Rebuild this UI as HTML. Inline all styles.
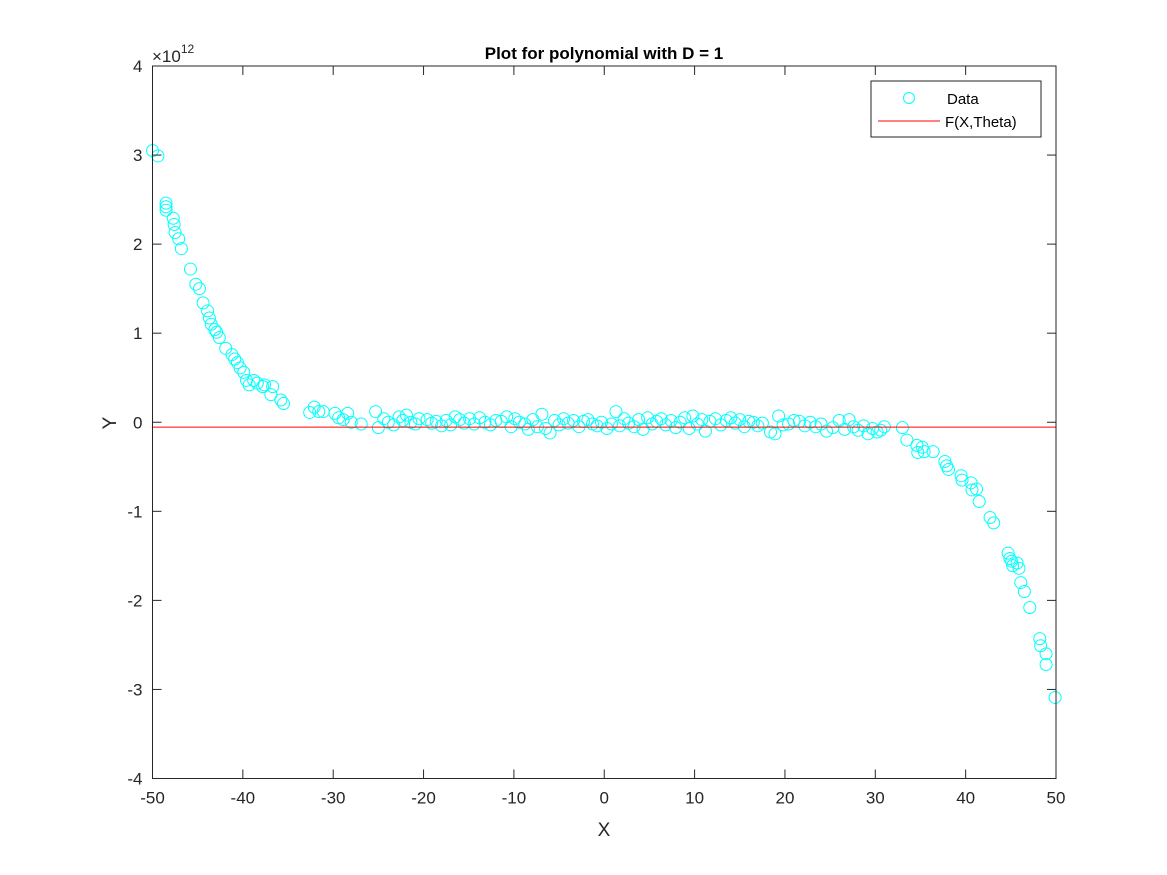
<!DOCTYPE html>
<html><head><meta charset="utf-8"><style>
html,body{margin:0;padding:0;background:#fff;}
svg{display:block;font-family:"Liberation Sans",Arial,sans-serif;}
</style></head><body>
<svg id="chart" width="1167" height="875" viewBox="0 0 1167 875" xmlns="http://www.w3.org/2000/svg">
<rect width="1167" height="875" fill="#fff"/>
<g id="marks"></g>
<g id="axes"></g>
<text x="604" y="59" text-anchor="middle" font-size="17" font-weight="bold" fill="#000">Plot for polynomial with D = 1</text>
<text x="604" y="836" text-anchor="middle" font-size="19" fill="#262626">X</text>
<text x="110" y="423" text-anchor="middle" font-size="19" fill="#262626" transform="rotate(-90 110 423)" dy="6">Y</text>
<text x="152" y="62" font-size="17" fill="#262626">×10<tspan font-size="12" dy="-9">12</tspan></text>
<g>
<rect x="871" y="81" width="170" height="56" fill="#fff" stroke="#262626" stroke-width="1"/>
<circle cx="909" cy="98" r="5.5" fill="none" stroke="#00ffff" stroke-width="1"/>
<text x="947" y="104" font-size="15" fill="#000">Data</text>
<line x1="878" y1="121" x2="940" y2="121" stroke="#ff0000" stroke-width="1"/>
<text x="945" y="127" font-size="15" fill="#000">F(X,Theta)</text>
</g>
</svg>
<script>
const xData = [-50,-49.4,-48.5,-48.5,-48.5,-47.7,-47.6,-47.5,-47.1,-46.8,-45.8,-45.2,-44.8,-44.4,-43.9,-43.7,-43.5,-43.1,-42.9,-42.6,-41.9,-41.2,-40.9,-40.6,-40.3,-39.9,-39.6,-39.3,-38.8,-38.4,-37.8,-37.6,-36.9,-36.7,-35.8,-35.5,
-32.6,-32.1,-31.6,-31.1,-29.8,-29.4,-28.9,-28.4,-28.0,-26.9,-25.3,-25.0,-24.4,-23.9,-23.3,-22.7,-22.3,-21.9,-21.4,-20.9,-20.5,-19.6,-19.1,-18.6,-18.0,-17.5,-17.0,-16.5,-16.0,-15.5,-14.9,-14.4,-13.8,-13.2,-12.6,-12.0,-11.4,-10.8,-10.3,-9.9,-9.4,-8.8,-8.4,-7.9,-7.4,-6.9,-6.5,-6.0,-5.5,-5.0,-4.5,-4.0,-3.4,-2.8,-2.3,-1.8,-1.3,-0.8,-0.3,0.3,0.8,1.3,1.7,2.2,2.7,3.3,3.8,4.3,4.8,5.3,5.8,6.3,6.8,7.4,7.9,8.4,8.9,9.4,9.8,10.3,10.8,11.2,11.7,12.3,12.9,13.5,14.0,14.5,15.0,15.5,16.0,16.5,17.0,17.5,18.4,18.9,19.3,19.8,20.4,21.0,21.6,22.2,22.8,23.4,24.0,24.6,25.3,26.0,26.6,27.1,27.6,28.1,28.7,29.2,29.7,30.2,30.6,31.0,33.0,
33.5,34.6,34.7,35.2,35.4,36.4,37.7,37.9,38.1,39.5,39.6,40.6,40.7,41.2,41.5,42.7,43.1,44.7,44.9,45.1,45.2,45.7,45.9,46.1,46.5,47.1,48.2,48.3,48.9,48.9,49.9];
const yData = [3.05,2.99,2.46,2.38,2.42,2.29,2.22,2.13,2.06,1.95,1.72,1.55,1.50,1.34,1.25,1.17,1.10,1.04,1.01,0.95,0.83,0.76,0.71,0.67,0.61,0.56,0.47,0.42,0.47,0.44,0.40,0.42,0.31,0.40,0.25,0.21,
0.11,0.17,0.12,0.12,0.10,0.05,0.03,0.10,0.00,-0.02,0.12,-0.06,0.04,0.00,-0.03,0.06,0.02,0.08,0.00,-0.02,0.04,0.03,-0.01,0.01,-0.04,0.02,-0.03,0.06,0.03,-0.01,0.04,-0.02,0.05,0.00,-0.03,0.02,0.01,0.06,-0.05,0.04,0.00,-0.02,-0.08,0.03,-0.05,0.09,-0.07,-0.12,0.02,-0.03,0.04,-0.01,0.02,-0.05,0.01,0.03,-0.02,-0.04,0.00,-0.07,-0.02,0.12,-0.04,0.04,-0.01,-0.05,0.03,-0.08,0.05,-0.02,0.01,0.04,-0.03,0.02,-0.06,0.00,0.05,-0.07,0.07,-0.02,0.03,-0.10,0.01,0.04,-0.03,0.02,0.05,-0.01,0.03,-0.05,0.01,0.00,-0.04,-0.01,-0.11,-0.13,0.07,-0.03,-0.02,0.02,0.01,-0.04,0.00,-0.05,-0.02,-0.10,-0.06,0.02,-0.08,0.03,-0.05,-0.09,-0.04,-0.13,-0.07,-0.11,-0.09,-0.05,-0.06,
-0.20,-0.26,-0.34,-0.28,-0.33,-0.33,-0.44,-0.49,-0.53,-0.60,-0.65,-0.68,-0.76,-0.75,-0.89,-1.07,-1.13,-1.47,-1.53,-1.56,-1.61,-1.58,-1.64,-1.80,-1.90,-2.08,-2.43,-2.51,-2.60,-2.72,-3.09];
const fitX = [-50, 50];
const fitY = [-0.055, -0.055];
const xTicks = [-50,-40,-30,-20,-10,0,10,20,30,40,50];
const yTicks = [-4,-3,-2,-1,0,1,2,3,4];

const L=152.5,R=1056,T=66,B=778.5;
const sx=v=>L+(v+50)/100*(R-L);
const sy=v=>B-(v+4)/8*(B-T);
const NS='http://www.w3.org/2000/svg';
const marks=document.getElementById('marks'), axes=document.getElementById('axes');
function mk(tag,attrs,parent){const e=document.createElementNS(NS,tag);for(const k in attrs)e.setAttribute(k,attrs[k]);parent.appendChild(e);return e;}

const n=Math.min(xData.length,yData.length);
for(let i=0;i<n;i++){
  const c=mk('circle',{cx:sx(xData[i]),cy:sy(yData[i]),r:6,fill:'none',stroke:'#00ffff','stroke-width':1},marks);
  
  
}
const fl=mk('line',{x1:sx(fitX[0]),y1:sy(fitY[0]),x2:sx(fitX[1]),y2:sy(fitY[1]),stroke:'#ff0000','stroke-width':1},marks);



const box=mk('rect',{x:L,y:T,width:R-L,height:B-T,fill:'none',stroke:'#262626','stroke-width':1},axes);


xTicks.forEach(v=>{
  const x=sx(v);
  mk('line',{x1:x,y1:B,x2:x,y2:B-9,stroke:'#262626'},axes);
  mk('line',{x1:x,y1:T,x2:x,y2:T+9,stroke:'#262626'},axes);
  const t=mk('text',{x:x,y:B+25,'text-anchor':'middle','font-size':17,fill:'#262626'},axes);
  t.textContent=v;
  
  
});
yTicks.forEach(v=>{
  const y=sy(v);
  mk('line',{x1:L,y1:y,x2:L+9,y2:y,stroke:'#262626'},axes);
  mk('line',{x1:R,y1:y,x2:R-9,y2:y,stroke:'#262626'},axes);
  const t=mk('text',{x:L-10,y:y+6,'text-anchor':'end','font-size':17,fill:'#262626'},axes);
  t.textContent=v;
  
  
});
</script>
</body></html>
